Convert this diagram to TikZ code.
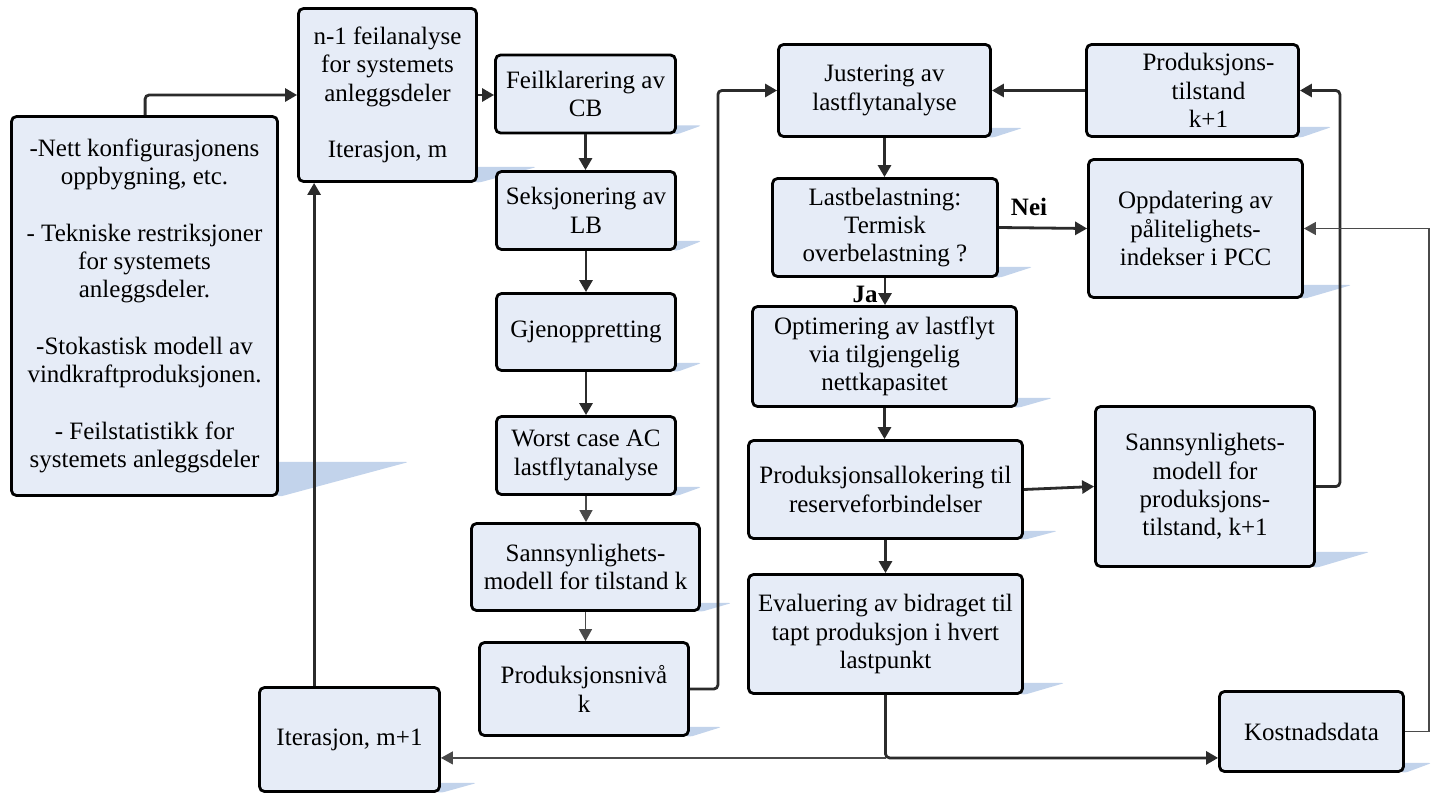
\documentclass[tikz,border=0pt]{standalone}
\usepackage{fontspec}
\newfontfamily\boxserif{Liberation Serif}
\usetikzlibrary{arrows.meta,calc,backgrounds}

\definecolor{boxfill}{HTML}{E6ECF7}
\definecolor{shadeblue}{HTML}{C2D3EB}
\definecolor{wire}{HTML}{2B2B2B}
\definecolor{thinwire}{HTML}{4A4A4A}

\newcommand\mainfs{\boxserif\fontsize{25}{28.3}\selectfont}
% flat perspective shadow under the right-hand lower corner of a box
\newcommand\dropshade[3]{%
  \fill[shadeblue,rounded corners=3pt]
    ($(#1.south east)+(-40,-#3)$) -- ($(#1.south east)+(#2,-#3)$)
    -- (#1.south east) -- cycle;}

\tikzset{
  blk/.style={draw=black, line width=2.8pt, rounded corners=5pt, fill=boxfill,
              align=center, inner sep=0pt, font=\mainfs},
  thick wire/.style={draw=wire, line width=2.8pt, rounded corners=4pt,
              -{Triangle[length=12pt,width=13pt]}},
  thin wire/.style={draw=thinwire, line width=1.2pt,
              -{Triangle[length=12pt,width=13pt]}},
  tag/.style={font=\mainfs\bfseries, inner sep=0pt}
}

\begin{document}
\begin{tikzpicture}[x=1pt,y=-1pt]
\useasboundingbox (0,0) rectangle (1437,795);

% ---- boxes ----
\node[blk, minimum width=266, minimum height=379] (inp) at (144.5,306)
  {-Nett konfigurasjonens\\oppbygning, etc.\\[28.3pt]- Tekniske restriksjoner\\for systemets\\anleggsdeler.\\[28.3pt]-Stokastisk modell av\\vindkraftproduksjonen.\\[28.3pt]- Feilstatistikk for\\systemets anleggsdeler};
\node[blk, minimum width=178, minimum height=173] (nfa) at (387.5,95)
  {n-1 feilanalyse\\for systemets\\anleggsdeler\\[28.3pt]Iterasjon, m};
\node[blk, minimum width=180, minimum height=78] (fcb) at (585.5,94)
  {Feilklarering av\\CB};
\node[blk, minimum width=179, minimum height=78] (slb) at (586,210.5)
  {Seksjonering av\\LB};
\node[blk, minimum width=179, minimum height=77] (gjo) at (586,332)
  {Gjenoppretting};
\node[blk, minimum width=179, minimum height=78] (wca) at (586,455.5)
  {Worst case AC\\lastflytanalyse};
\node[blk, minimum width=228, minimum height=87] (smk) at (585.5,567)
  {Sannsynlighets-\\modell for tilstand k};
\node[blk, minimum width=209, minimum height=93] (pnk) at (584,689)
  {Produksjonsnivå\\k};
\node[blk, minimum width=180, minimum height=104] (itm) at (349.5,739.5)
  {Iterasjon, m+1};
\node[blk, minimum width=212, minimum height=92] (jla) at (884.5,90.5)
  {Justering av\\lastflytanalyse};
\node[blk, minimum width=225, minimum height=98] (lbl) at (885,227.5)
  {Lastbelastning:\\Termisk\\overbelastning ?};
\node[blk, minimum width=264, minimum height=100] (opt) at (884.5,356.5)
  {Optimering av lastflyt\\via tilgjengelig\\nettkapasitet};
\node[blk, minimum width=274, minimum height=98] (pal) at (885.5,489.5)
  {Produksjonsallokering til\\reserveforbindelser};
\node[blk, minimum width=274, minimum height=119] (evb) at (885.5,634)
  {Evaluering av bidraget til\\tapt produksjon i hvert\\lastpunkt};
\node[blk, minimum width=212, minimum height=92] (ptk) at (1192.5,90.5)
  {\hspace*{32pt}Produksjons-\\\hspace*{32pt}tilstand\\\hspace*{32pt}k+1};
\node[blk, minimum width=214, minimum height=138] (opp) at (1195.5,228.5)
  {Oppdatering av\\pålitelighets-\\indekser i PCC};
\node[blk, minimum width=219, minimum height=160] (smp) at (1205,486.5)
  {Sannsynlighets-\\modell for\\produksjons-\\tilstand, k+1};
\node[blk, minimum width=184, minimum height=80] (kdt) at (1311.5,731.5)
  {Kostnadsdata};

% ---- shadows ----
\begin{scope}[on background layer]
  \dropshade{inp}{130}{35}
  \dropshade{nfa}{59}{16}
  \dropshade{fcb}{25}{9}
  \dropshade{slb}{25}{10}
  \dropshade{gjo}{25}{9}
  \dropshade{wca}{25}{9}
  \dropshade{smk}{31}{9}
  \dropshade{pnk}{32}{10}
  \dropshade{itm}{36}{10}
  \dropshade{jla}{31}{10}
  \dropshade{lbl}{34}{11}
  \dropshade{opt}{35}{10}
  \dropshade{pal}{34}{9}
  \dropshade{evb}{41}{12}
  \dropshade{ptk}{32}{11}
  \dropshade{opp}{48}{14}
  \dropshade{smp}{54}{16}
  \dropshade{kdt}{27}{10}
\end{scope}

% ---- connectors ----
\coordinate (inpTop) at ($(inp.north west)+(135,0)$);
\draw[thick wire] (inpTop) |- (nfa.west);
\draw[thick wire] (nfa.east) -- (nfa.east -| fcb.west);
\draw[thick wire] (fcb.south) -- (fcb.south |- slb.north);
\draw[thick wire] (slb.south) -- (slb.south |- gjo.north);
\draw[thick wire] (gjo.south) -- (gjo.south |- wca.north);
\draw[thin wire] (wca.south) -- (wca.south |- smk.north);
\draw[thin wire] (smk.south) -- (smk.south |- pnk.north);
\draw[thick wire] (pnk.east) -- ++(28,0) |- (jla.west);
\draw[thick wire] (jla.south) -- (jla.south |- lbl.north);
\draw[thick wire] (lbl.east) -- (opp.west);
\node[tag] (nei) at (1029,207) {Nei};
\draw[thick wire] (lbl.south) -- (lbl.south |- opt.north);
\node[tag] (ja) at (865,294) {Ja};
\draw[thick wire] (opt.south) -- (opt.south |- pal.north);
\draw[thick wire] (pal.east) -- (smp.west);
\draw[thick wire] (pal.south) -- (pal.south |- evb.north);
\coordinate (kdtIn) at ($(kdt.south west)+(0,-15)$);
\coordinate (split) at (evb.south |- kdtIn);
\draw[thick wire] (evb.south) |- (kdtIn);
\draw[thin wire] (split) -- (split -| itm.east);
\coordinate (itmTop) at ($(itm.north west)+(56,0)$);
\draw[thick wire] (itmTop) -- (itmTop |- nfa.south);
\draw[thick wire] (smp.east) -- ++(24,0) |- (ptk.east);
\draw[thick wire] (ptk.west) -- (jla.east);
\draw[thin wire] (kdt.east) -- ++(24,0) |- (opp.east);
\end{tikzpicture}
\end{document}
